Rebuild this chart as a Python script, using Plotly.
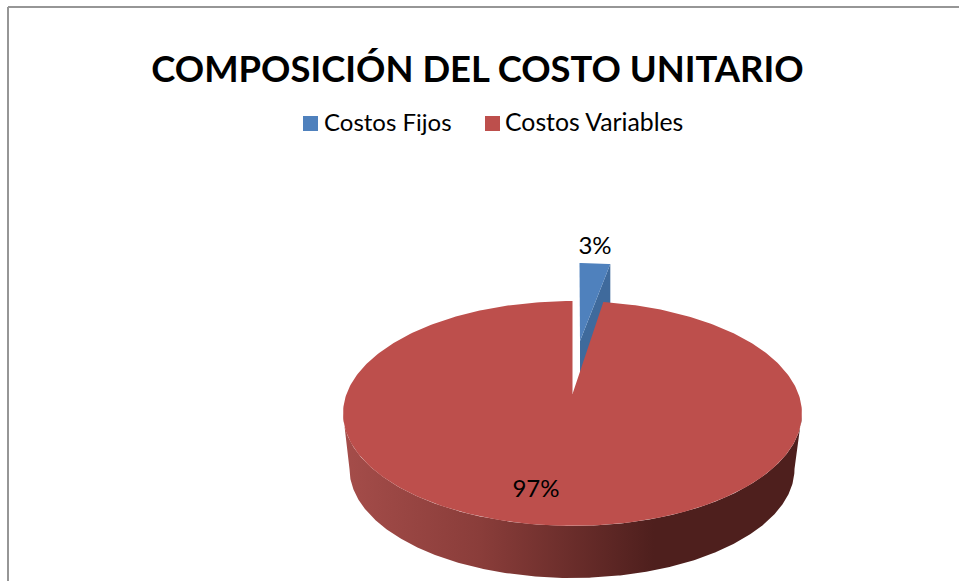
import math
import plotly.graph_objects as go

# --- data ---
categories = ["Costos Fijos", "Costos Variables"]
shares = [2.55, 97.45]
title_text = "COMPOSICIÓN DEL COSTO UNITARIO"

# --- styles ---
BLUE, BLUE_SIDE = "#4f81bd", "#3f6a9c"
RED = "#bd4f4c"
FONT = "Lato"
legend_marker_x = [310.5, 492.5]
legend_text_x = [324, 505]
legend_y = 123.5
legend_text_y = 125
label_x = [595, 536]
label_y = [248, 491]

# projection of the tilted disc onto the page (page pixels are the axis units)
APEX = (572.5, 394)
B, A, K = 226.0, 109.1, 0.173
DEPTH_C, DEPTH_RX, DEPTH_RY = (572, 469), 222.5, 109.0
EXPLODE = (7, -38)
BLUE_APEX = (580, 341)


def rim(theta):
    u, v = math.sin(theta), math.cos(theta)
    w = 1 + K * v
    return APEX[0] + B * u / w, APEX[1] - A * v / w


frac = shares[0] / sum(shares)
end = 2 * math.pi * frac

# red top face: from end of the blue share all the way round
N = 360
red_pts = [rim(end + (2 * math.pi - end) * i / N) for i in range(N + 1)]
red_x = [APEX[0]] + [p[0] for p in red_pts] + [APEX[0]]
red_y = [APEX[1]] + [p[1] for p in red_pts] + [APEX[1]]

# red outer wall: front of the top rim (between its widest points), then the lower rim back again
t0 = math.acos(-K)
front_top = [rim(t0 + (2 * math.pi - 2 * t0) * i / N) for i in range(N + 1)]
front_low = [
    (DEPTH_C[0] - DEPTH_RX * math.cos(math.pi * i / N), DEPTH_C[1] + DEPTH_RY * math.sin(math.pi * i / N))
    for i in range(N + 1)
]
wall_x = [p[0] for p in front_top] + [p[0] for p in front_low]
wall_y = [p[1] for p in front_top] + [p[1] for p in front_low]

# blue exploded slice
b_rim = [rim(end * i / 20) for i in range(21)]
blue_x = [BLUE_APEX[0]] + [p[0] + EXPLODE[0] for p in b_rim] + [BLUE_APEX[0]]
blue_y = [BLUE_APEX[1]] + [p[1] + EXPLODE[1] for p in b_rim] + [BLUE_APEX[1]]
tip = (b_rim[-1][0] + EXPLODE[0], b_rim[-1][1] + EXPLODE[1])
bside_x = [tip[0], tip[0], BLUE_APEX[0], BLUE_APEX[0], tip[0]]
bside_y = [tip[1], tip[1] + 52, BLUE_APEX[1] + 40, BLUE_APEX[1], tip[1]]

fig = go.Figure()
fig.add_trace(go.Scatter(
    x=wall_x, y=wall_y, mode="lines", fill="toself", line=dict(width=0),
    fillgradient=dict(
        type="horizontal", start=342, stop=801,
        colorscale=[[0, "#a54d4a"], [0.3, "#8a3d3a"], [0.68, "#4e1f1d"], [1, "#4e1f1d"]],
    ),
    showlegend=False, hoverinfo="skip",
))
fig.add_trace(go.Scatter(x=bside_x, y=bside_y, mode="lines", fill="toself", fillcolor=BLUE_SIDE,
                         line=dict(width=0), showlegend=False, hoverinfo="skip"))
fig.add_trace(go.Scatter(x=blue_x, y=blue_y, mode="lines", fill="toself", fillcolor=BLUE,
                         line=dict(width=0), showlegend=False, hoverinfo="skip"))
fig.add_trace(go.Scatter(x=red_x, y=red_y, mode="lines", fill="toself", fillcolor=RED,
                         line=dict(width=0), showlegend=False, hoverinfo="skip"))

# legend keys and their names
fig.add_trace(go.Scatter(x=legend_marker_x, y=[legend_y] * 2, mode="markers",
                         marker=dict(symbol="square", size=15, color=[BLUE, RED]),
                         showlegend=False, hoverinfo="skip"))
fig.add_trace(go.Scatter(x=legend_text_x, y=[legend_text_y] * 2, mode="text", text=categories,
                         textposition="middle right",
                         textfont=dict(family=FONT, size=[24, 24.8], color="#000000"),
                         showlegend=False, hoverinfo="skip"))

# data labels
fig.add_trace(go.Scatter(
    x=label_x, y=label_y, mode="text",
    text=[f"{round(v)}%" for v in shares],
    textfont=dict(family=FONT, size=24, color="#000000"),
    showlegend=False, hoverinfo="skip",
))

fig.update_layout(
    width=959, height=581,
    margin=dict(l=0, r=0, t=0, b=0),
    paper_bgcolor="white", plot_bgcolor="white",
    font=dict(family=FONT, color="#000000"),
    title=dict(text=f"<b>{title_text}</b>", x=477.5 / 959, xanchor="center",
               y=1 - 69 / 581, yanchor="middle", font=dict(family=FONT, size=36.4, color="#000000")),
    xaxis=dict(range=[0, 959], visible=False, fixedrange=True),
    yaxis=dict(range=[581, 0], visible=False, fixedrange=True),
    showlegend=False,
    shapes=[dict(type="line", xref="x", yref="y", x0=8, y0=7, x1=959, y1=7, line=dict(color="#969696", width=2)),
            dict(type="line", xref="x", yref="y", x0=8, y0=7, x1=8, y1=581, line=dict(color="#969696", width=2))],
)
fig.write_html("out.html", config=dict(displayModeBar=False),
               post_script="document.body.style.margin='0';document.documentElement.style.overflow='hidden';")
